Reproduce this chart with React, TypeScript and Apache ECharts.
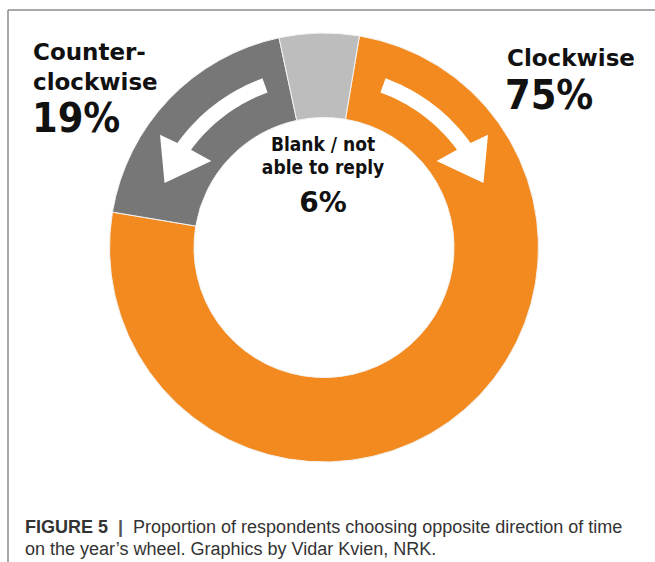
import React, { useEffect, useRef } from "react";
import * as echarts from "echarts";

const categories = ["Clockwise", "Counter-clockwise", "Blank / not able to reply"];
const values = [75, 19, 6];
const colors = ["#F28A1F", "#777777", "#BDBDBD"];
const clockwiseLines = ["Clockwise"];
const counterLines = ["Counter-", "clockwise"];
const blankLines = ["Blank / not", "able to reply"];
const captionBold = "FIGURE 5";
const captionLines = [
  "Proportion of respondents choosing opposite direction of time",
  "on the year\u2019s wheel. Graphics by Vidar Kvien, NRK.",
];

const CX = 324;
const CY = 247.5;
const R_IN = 130;
const R_OUT = 214.5;
const LABEL_FONT = "'DejaVu Sans', sans-serif";
const COND_FONT = "'DejaVu Sans Condensed', 'DejaVu Sans', sans-serif";
const CAP_FONT = "'Liberation Sans', Arial, sans-serif";

function arrowPoints(dir: number): number[][] {
  const pt = (r: number, deg: number) => {
    const t = (deg * Math.PI) / 180 * dir;
    return [CX + r * Math.sin(t), CY - r * Math.cos(t)];
  };
  const a0 = 20;
  const ro = 180;
  const ri = 165;
  const N = 24;
  const pts: number[][] = [];
  for (let i = 0; i <= N; i++) pts.push(pt(ro, a0 + ((54.5 - a0) * i) / N));
  pts.push(pt(199, 55.5));
  pts.push(pt(172, 68));
  pts.push(pt(142, 52.5));
  for (let i = N; i >= 0; i--) pts.push(pt(ri, a0 + ((53.7 - a0) * i) / N));
  return pts;
}

export default function App() {
  const ref = useRef<HTMLDivElement>(null);
  useEffect(() => {
    if (!ref.current) return;
    const chart = echarts.init(ref.current, undefined, { renderer: "svg" });
    const txt = (x: number, y: number, text: string, size: number, font: string, align = "left", lineHeight?: number) => ({
      type: "text",
      x,
      y,
      z: 100,
      silent: true,
      style: {
        text,
        fontSize: size,
        fontWeight: "bold",
        fontFamily: font,
        fill: "#111111",
        align,
        verticalAlign: "middle",
        lineHeight: lineHeight ?? size,
      },
    });
    chart.setOption({
      animation: false,
      backgroundColor: "#ffffff",
      series: [
        {
          type: "pie",
          center: [CX, CY],
          radius: [R_IN, R_OUT],
          startAngle: 80.5,
          clockwise: true,
          silent: true,
          label: { show: false },
          labelLine: { show: false },
          emphasis: { disabled: true },
          itemStyle: { borderColor: "#f4f4f4", borderWidth: 1 },
          data: categories.map((name, i) => ({
            name,
            value: values[i],
            itemStyle: { color: colors[i] },
          })),
        },
      ],
      graphic: [
        { type: "line", z: 100, shape: { x1: 8, y1: 10, x2: 655, y2: 10 }, style: { stroke: "#8c8c8c", lineWidth: 1.5 } },
        { type: "line", z: 100, shape: { x1: 8, y1: 10, x2: 8, y2: 562 }, style: { stroke: "#8c8c8c", lineWidth: 1.5 } },
        { type: "polygon", z: 100, shape: { points: arrowPoints(1) }, style: { fill: "#ffffff" } },
        { type: "polygon", z: 100, shape: { points: arrowPoints(-1) }, style: { fill: "#ffffff" } },
        txt(33, 66.5, counterLines.join("\n"), 23, LABEL_FONT, "left", 30),
        txt(32, 118, `${values[1]}%`, 41, COND_FONT),
        txt(507, 58, clockwiseLines[0], 23, LABEL_FONT),
        txt(505, 94.5, `${values[0]}%`, 41, COND_FONT),
        txt(323, 155.5, blankLines.join("\n"), 19, COND_FONT, "center", 22.5),
        txt(323, 202, `${values[2]}%`, 28, LABEL_FONT, "center"),
        {
          type: "text",
          x: 25,
          y: 526.5,
          z: 100,
          silent: true,
          style: {
            text: `{b|${captionBold}}{s|  |  }${captionLines[0]}`,
            fontSize: 18,
            fontFamily: CAP_FONT,
            fill: "#333333",
            verticalAlign: "middle",
            rich: {
              b: { fontSize: 18, fontFamily: CAP_FONT, fontWeight: "bold", fill: "#333333" },
              s: { fontSize: 18, fontFamily: CAP_FONT, fontWeight: "bold", fill: "#555555" },
            },
          },
        },
        {
          type: "text",
          x: 25,
          y: 548.5,
          z: 100,
          silent: true,
          style: {
            text: captionLines[1],
            fontSize: 18,
            fontFamily: CAP_FONT,
            fill: "#333333",
            verticalAlign: "middle",
          },
        },
      ],
    });
    return () => chart.dispose();
  }, []);
  return (
    <div
      ref={ref}
      style={{ position: "absolute", left: 0, top: 0, width: 655, height: 562 }}
    />
  );
}
